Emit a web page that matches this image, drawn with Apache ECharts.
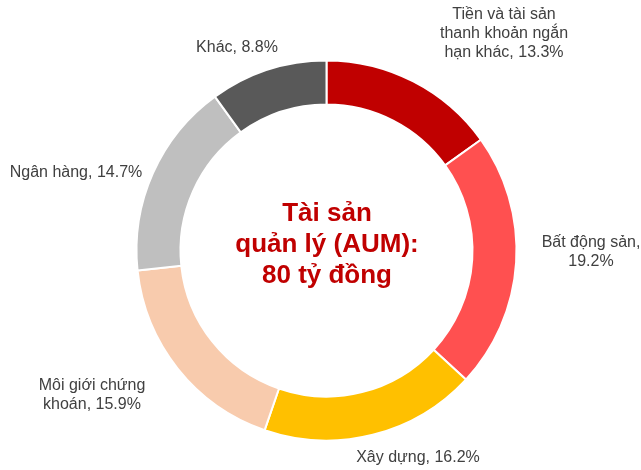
<!DOCTYPE html>
<html>
<head>
<meta charset="utf-8">
<script src="https://cdn.jsdelivr.net/npm/echarts@6/dist/echarts.min.js"></script>
<style>
html,body{margin:0;padding:0;background:#fff;}
#c{width:641px;height:470px;}
</style>
</head>
<body>
<div id="c"></div>
<script>
const categories = ['Tiền và tài sản thanh khoản ngắn hạn khác', 'Bất động sản', 'Xây dựng', 'Môi giới chứng khoán', 'Ngân hàng', 'Khác'];
const values = [13.3, 19.2, 16.2, 15.9, 14.7, 8.8];
const labelTexts = [
  'Tiền và tài sản\nthanh khoản ngắn\nhạn khác, 13.3%',
  'Bất động sản,\n19.2%',
  'Xây dựng, 16.2%',
  'Môi giới chứng\nkhoán, 15.9%',
  'Ngân hàng, 14.7%',
  'Khác, 8.8%'
];
const colors = ['#C00000', '#FF5050', '#FFC000', '#F8CBAD', '#BFBFBF', '#595959'];
const labelPos = [[504, 34], [591, 252], [418, 458], [92, 395], [76, 173], [237, 48]];

const chart = echarts.init(document.getElementById('c'), null, {renderer: 'canvas'});
chart.setOption({
  animation: false,
  color: colors,
  graphic: [{
    type: 'text',
    x: 327, y: 245,
    style: {
      text: 'Tài sản\nquản lý (AUM):\n80 tỷ đồng',
      align: 'center', verticalAlign: 'middle',
      font: 'bold 26px "Liberation Sans", Arial, sans-serif',
      lineHeight: 31,
      fill: '#C00000'
    }
  }],
  series: [{
    type: 'pie',
    center: [326.5, 250.5],
    radius: [146, 190],
    startAngle: 90,
    clockwise: true,
    avoidLabelOverlap: false,
    itemStyle: {borderColor: '#ffffff', borderWidth: 2},
    label: {
      show: true,
      position: 'outside',
      formatter: p => labelTexts[p.dataIndex],
      fontFamily: '"Liberation Sans", Arial, sans-serif',
      fontSize: 16,
      lineHeight: 19,
      color: '#404040',
      align: 'center',
      overflow: 'none'
    },
    labelLine: {show: false},
    labelLayout: p => ({x: labelPos[p.dataIndex][0], y: labelPos[p.dataIndex][1], align: 'center', verticalAlign: 'middle'}),
    emphasis: {disabled: true},
    data: categories.map((c, i) => ({name: c, value: values[i]}))
  }]
});
</script>
</body>
</html>
